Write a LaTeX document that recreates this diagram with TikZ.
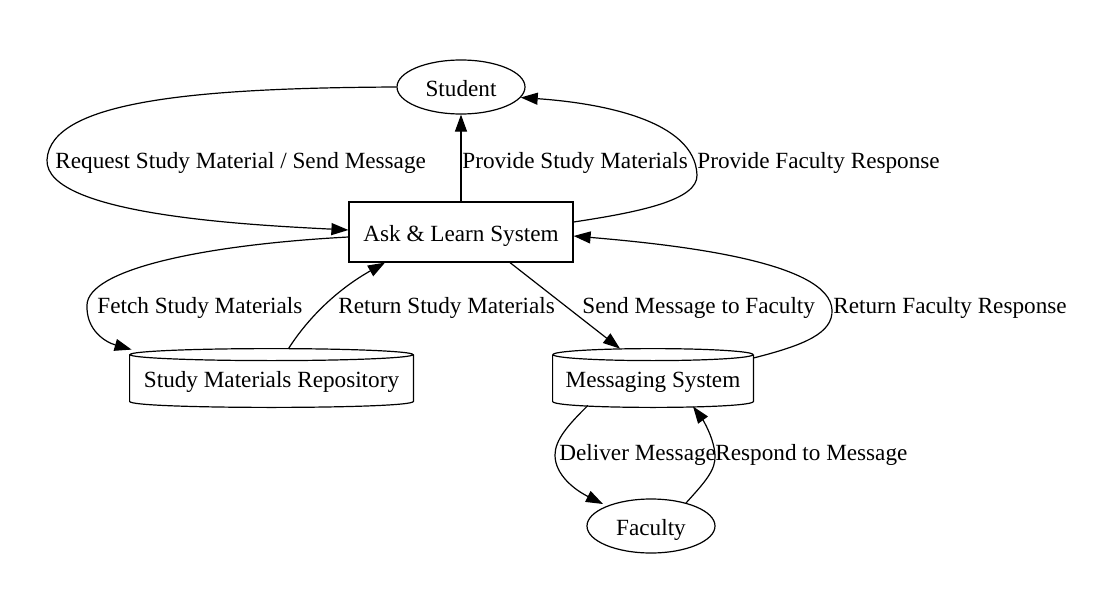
\documentclass[tikz,border=0pt]{standalone}
\usepackage{fontspec}
\setmainfont{Liberation Serif}
\usetikzlibrary{arrows.meta,shapes.geometric,calc}
\begin{document}
\begin{tikzpicture}[x=0.5pt,y=-0.5pt,
  every node/.style={font=\fontsize{11.6}{14}\selectfont},
  ell/.style={draw,ellipse,line width=0.6pt,minimum width=64pt,minimum height=27pt,inner sep=0pt,text height=9pt,text depth=0pt},
  box/.style={draw,rectangle,line width=0.6pt,minimum width=112pt,minimum height=30pt,inner sep=0pt,text height=9pt,text depth=0pt},
  cyl/.style={rectangle,inner sep=0pt,minimum height=29pt,text height=9pt,text depth=0pt},
  lbl/.style={anchor=base west,inner sep=0pt},
  edge/.style={line width=0.6pt,-{Triangle[length=8.5pt,width=6pt]}},
  cylline/.style={line width=0.6pt}
]
\useasboundingbox (0,0) rectangle (1120,605);
% nodes
\node[ell] (stu) at (461,87) {Student};
\node[box] (als) at (461,232) {Ask \& Learn System};
\node[cyl,minimum width=141.5pt] (smr) at (271.5,378) {Study Materials Repository};
\node[cyl,minimum width=100pt] (msg) at (653,378) {Messaging System};
\node[ell] (fac) at (651,526) {Faculty};
% cylinder outlines
\draw[cylline] ($(smr.north)+(0,6)$) ellipse [x radius=70.75pt, y radius=3pt];
\draw[cylline] ($(smr.north west)+(0,6)$) -- ($(smr.south west)+(0,-6)$)
  .. controls +(0,8) and +(0,8) .. ($(smr.south east)+(0,-6)$) -- ($(smr.north east)+(0,6)$);
\draw[cylline] ($(msg.north)+(0,6)$) ellipse [x radius=50pt, y radius=3pt];
\draw[cylline] ($(msg.north west)+(0,6)$) -- ($(msg.south west)+(0,-6)$)
  .. controls +(0,8) and +(0,8) .. ($(msg.south east)+(0,-6)$) -- ($(msg.north east)+(0,6)$);
% edges
\draw[edge] (stu.west) .. controls (200,88) and (50,100) .. (47,160)
  .. controls (45,215) and (250,225) .. ($(als.west)+(0,-2)$);
\draw[edge] (als.north) -- (stu.south);
\draw[edge] ($(als.east)+(0,-10)$) .. controls (640,212) and (698,200) .. (697,175)
  .. controls (695,120) and (600,103) .. (stu.-10);
\draw[edge] ($(als.west)+(0,5)$) .. controls (200,245) and (88,270) .. (87,305)
  .. controls (86,330) and (105,342) .. ($(smr.north west)+(2,1)$);
\draw[edge] ($(smr.north)+(17,0)$) .. controls (310,315) and (340,288) .. ($(als.south)+(-76,0)$);
\draw[edge] ($(als.south)+(49,0)$) -- ($(msg.north)+(-33,0)$);
\draw[edge] ($(msg.east)+(0,-20)$) .. controls (805,345) and (833,333) .. (832,310)
  .. controls (830,262) and (680,245) .. ($(als.east)+(0,4)$);
\draw[edge] ($(msg.south)+(-65,-2)$) .. controls (568,425) and (555,440) .. (555,455)
  .. controls (555,475) and (575,490) .. ($(fac.center)+(-48,-22)$);
\draw[edge] ($(fac.center)+(35,-23)$) .. controls (705,482) and (716,470) .. (715,455)
  .. controls (714,438) and (703,420) .. ($(msg.south)+(40,-1)$);
% labels
\node[lbl] (l1) at (55,168) {Request Study Material / Send Message};
\node[lbl] (l2) at (462,168) {Provide Study Materials};
\node[lbl] (l3) at (697,168) {Provide Faculty Response};
\node[lbl] (l4) at (97,313) {Fetch Study Materials};
\node[lbl] (l5) at (338,313) {Return Study Materials};
\node[lbl] (l6) at (582,313) {Send Message to Faculty};
\node[lbl] (l7) at (833,313) {Return Faculty Response};
\node[lbl] (l8) at (559,460) {Deliver Message};
\node[lbl] (l9) at (715,460) {Respond to Message};
\end{tikzpicture}
\end{document}
